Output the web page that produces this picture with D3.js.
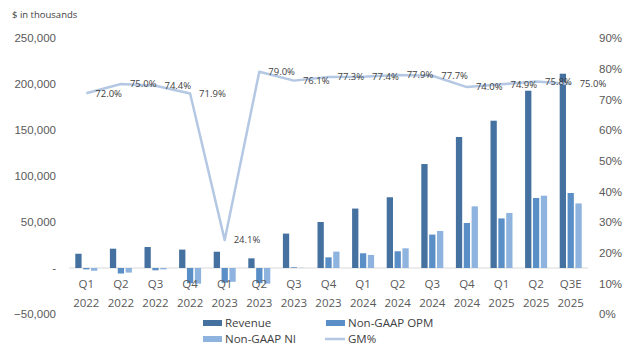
<!DOCTYPE html>
<html>
<head>
<meta charset="utf-8">
<script src="https://cdn.jsdelivr.net/npm/d3@7"></script>
<style>
  html, body { margin: 0; padding: 0; background: #fff; }
  svg { display: block; font-family: "Open Sans", "Noto Sans", sans-serif; }
</style>
</head>
<body>
<svg id="chart" width="639" height="356"></svg>
<script>
const quarters = ["Q1","Q2","Q3","Q4","Q1","Q2","Q3","Q4","Q1","Q2","Q3","Q4","Q1","Q2","Q3E"];
const years = ["2022","2022","2022","2022","2023","2023","2023","2023","2024","2024","2024","2024","2025","2025","2025"];
const revenue = [15500, 21000, 22800, 20000, 17700, 10500, 37400, 50000, 64600, 76900, 113000, 142400, 160100, 192700, 211200];
const opm = [-1500, -6000, -2500, -16500, -16000, -16500, 800, 11600, 16000, 18200, 36300, 48900, 53900, 76100, 81500];
const ni = [-3000, -5000, -1500, -17000, -15000, -17000, 200, 17800, 14200, 21400, 40200, 67000, 59800, 78600, 70200];
const gm = [72.0, 75.0, 74.4, 71.9, 24.1, 79.0, 76.1, 77.3, 77.4, 77.9, 77.7, 74.0, 74.9, 75.8, 75.0];
const leftTicks = [-50000, 0, 50000, 100000, 150000, 200000, 250000];
const rightTicks = [0, 10, 20, 30, 40, 50, 60, 70, 80, 90];
const barSeries = ["Revenue", "Non-GAAP OPM", "Non-GAAP NI"];
const barColors = ["#44719f", "#5a8ec6", "#8db3de"];
const lineName = "GM%";
const lineColor = "#b4c8e4";

const svg = d3.select("#chart");
const cats = quarters.map((q, i) => i);

const x = d3.scaleBand().domain(cats).range([69, 588]);
const xs = d3.scaleBand().domain(barSeries).range([0, 22]).paddingInner(0.2);
const yL = d3.scaleLinear().domain([-50000, 250000]).range([314, 38]);
const yR = d3.scaleLinear().domain([0, 90]).range([314, 38]);

// zero line
svg.append("line")
  .attr("x1", 69).attr("x2", 588)
  .attr("y1", yL(0)).attr("y2", yL(0))
  .attr("stroke", "#d9d9d9").attr("stroke-width", 1);

// bars
const seriesData = [revenue, opm, ni];
seriesData.forEach((vals, si) => {
  svg.append("g").selectAll("rect").data(vals).join("rect")
    .attr("x", (d, i) => x(i) + x.bandwidth() / 2 - 11 + xs(barSeries[si]))
    .attr("width", xs.bandwidth())
    .attr("y", d => Math.min(yL(d), yL(0)))
    .attr("height", d => Math.abs(yL(d) - yL(0)))
    .attr("fill", barColors[si]);
});

// line
const line = d3.line().x((d, i) => x(i) + x.bandwidth() / 2).y(d => yR(d));
svg.append("path").datum(gm)
  .attr("d", line)
  .attr("fill", "none")
  .attr("stroke", lineColor)
  .attr("stroke-width", 2.5)
  .attr("stroke-linejoin", "round");

svg.append("g").selectAll("text").data(gm).join("text")
  .attr("x", (d, i) => x(i) + x.bandwidth() / 2 + 9)
  .attr("y", d => yR(d))
  .attr("dy", "0.35em")
  .attr("font-size", "9.5px")
  .attr("fill", "#404040")
  .text(d => d.toFixed(1) + "%");

// left axis
const fmtL = d => d === 0 ? "-" : d3.format(",")(d);
const axL = d3.axisLeft(yL).tickValues(leftTicks).tickFormat(fmtL).tickSize(0).tickPadding(0);
const gL = svg.append("g").attr("transform", "translate(56,0)").call(axL);
gL.select(".domain").remove();
gL.selectAll("text").attr("font-size", "11.5px").attr("fill", "#595959").attr("font-family", null);

// right axis
const axR = d3.axisRight(yR).tickValues(rightTicks).tickFormat(d => d + "%").tickSize(0).tickPadding(0);
const gR = svg.append("g").attr("transform", "translate(599,0)").call(axR);
gR.select(".domain").remove();
gR.selectAll("text").attr("font-size", "11.5px").attr("fill", "#595959").attr("font-family", null);

// category axis (two lines)
const gX = svg.append("g");
cats.forEach(i => {
  const cx = x(i) + x.bandwidth() / 2;
  const t = gX.append("text").attr("text-anchor", "middle").attr("font-size", "11.5px").attr("fill", "#595959");
  t.append("tspan").attr("x", cx).attr("y", 288).text(quarters[i]);
  t.append("tspan").attr("x", cx).attr("y", 307).text(years[i]);
});

// title
svg.append("text").attr("x", 12).attr("y", 17.5)
  .attr("font-size", "9.5px").attr("fill", "#404040")
  .text("$ in thousands");

// legend
const legendItems = [
  {name: barSeries[0], color: barColors[0], type: "bar", x: 203, y: 323},
  {name: barSeries[1], color: barColors[1], type: "bar", x: 326, y: 323},
  {name: barSeries[2], color: barColors[2], type: "bar", x: 203, y: 339},
  {name: lineName, color: lineColor, type: "line", x: 326, y: 339}
];
const lg = svg.append("g");
legendItems.forEach(it => {
  if (it.type === "bar") {
    lg.append("rect").attr("x", it.x).attr("y", it.y - 3).attr("width", 19).attr("height", 6).attr("fill", it.color);
  } else {
    lg.append("line").attr("x1", it.x - 1).attr("x2", it.x + 19).attr("y1", it.y).attr("y2", it.y)
      .attr("stroke", it.color).attr("stroke-width", 2.5);
  }
  lg.append("text").attr("x", it.x + 22).attr("y", it.y).attr("dy", "0.35em")
    .attr("font-size", "11.5px").attr("fill", "#404040").text(it.name);
});
</script>
</body>
</html>
